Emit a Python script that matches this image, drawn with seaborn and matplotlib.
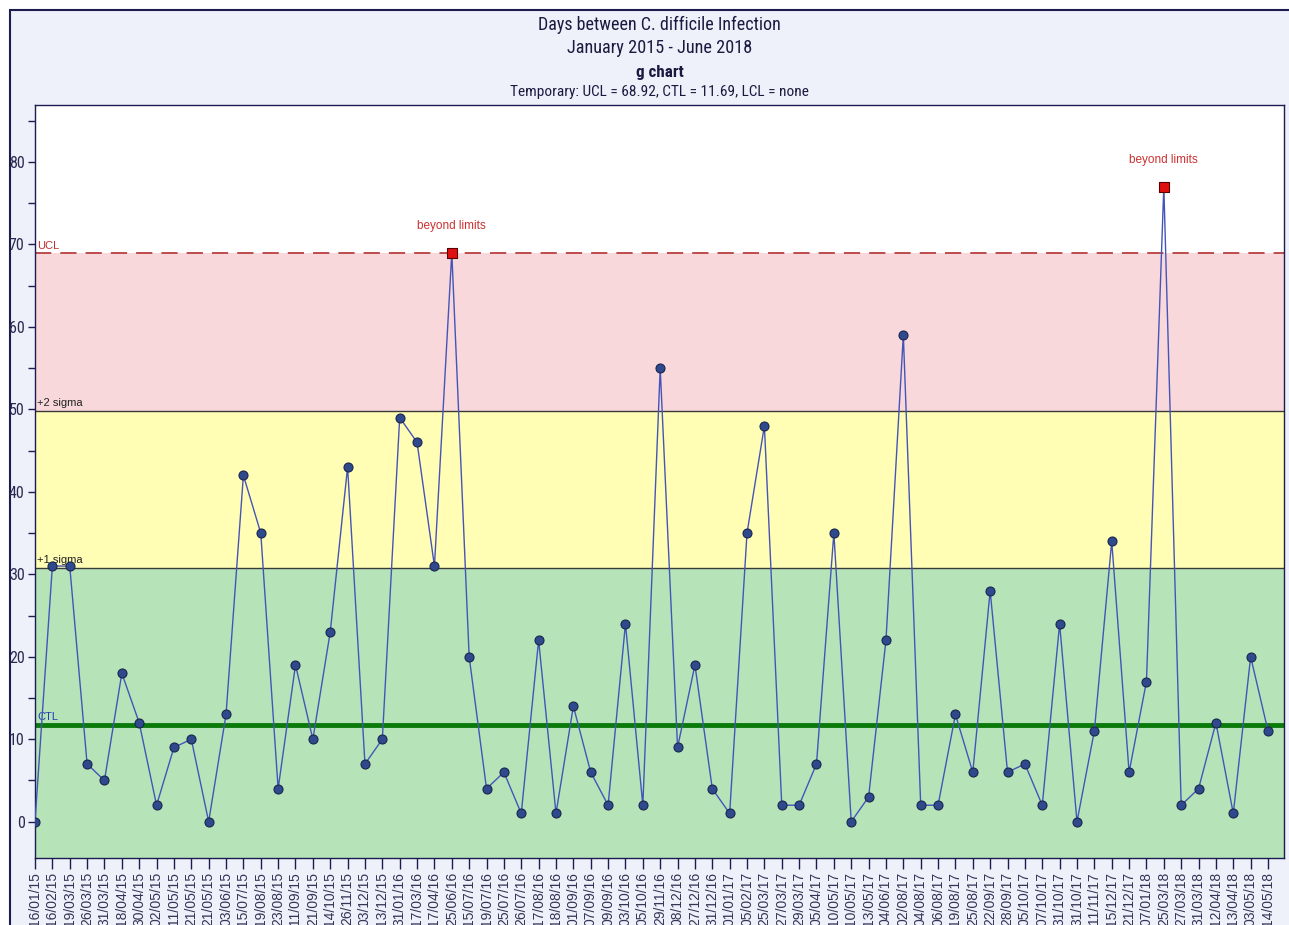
import matplotlib
matplotlib.use("Agg")
import matplotlib.pyplot as plt
from matplotlib.patches import Rectangle
from matplotlib.ticker import MultipleLocator
from matplotlib import font_manager
from matplotlib.font_manager import FontProperties
import seaborn as sns
import pandas as pd
import numpy as np

# ---- data ----
dates = ["16/01/15", "16/02/15", "19/03/15", "26/03/15", "31/03/15", "18/04/15", "30/04/15",
         "02/05/15", "11/05/15", "21/05/15", "21/05/15", "03/06/15", "15/07/15", "19/08/15",
         "23/08/15", "11/09/15", "21/09/15", "14/10/15", "26/11/15", "03/12/15", "13/12/15",
         "31/01/16", "17/03/16", "17/04/16", "25/06/16", "15/07/16", "19/07/16", "25/07/16",
         "26/07/16", "17/08/16", "18/08/16", "01/09/16", "07/09/16", "09/09/16", "03/10/16",
         "05/10/16", "29/11/16", "08/12/16", "27/12/16", "31/12/16", "01/01/17", "05/02/17",
         "25/03/17", "27/03/17", "29/03/17", "05/04/17", "10/05/17", "10/05/17", "13/05/17",
         "04/06/17", "02/08/17", "04/08/17", "06/08/17", "19/08/17", "25/08/17", "22/09/17",
         "28/09/17", "05/10/17", "07/10/17", "31/10/17", "31/10/17", "11/11/17", "15/12/17",
         "21/12/17", "07/01/18", "25/03/18", "27/03/18", "31/03/18", "12/04/18", "13/04/18",
         "03/05/18", "14/05/18"]
days = [0, 31, 31, 7, 5, 18, 12, 2, 9, 10, 0, 13, 42, 35, 4, 19, 10, 23, 43, 7, 10,
        49, 46, 31, 69, 20, 4, 6, 1, 22, 1, 14, 6, 2, 24, 2, 55, 9, 19, 4, 1, 35,
        48, 2, 2, 7, 35, 0, 3, 22, 59, 2, 2, 13, 6, 28, 6, 7, 2, 24, 0, 11, 34,
        6, 17, 77, 2, 4, 12, 1, 20, 11]
UCL = 68.92
CTL = 11.69
title_lines = ["Days between C. difficile Infection", "January 2015 - June 2018"]
subtitle = "g chart"
limits_text = "Temporary: UCL = 68.92, CTL = 11.69, LCL = none"

sigma = (UCL - CTL) / 3.0
s1 = CTL + sigma
s2 = CTL + 2 * sigma

df = pd.DataFrame({"idx": np.arange(len(days)), "days": days, "date": dates})
df["beyond"] = df["days"] > UCL

# ---- fonts: look for a condensed sans ----
entries = font_manager.fontManager.ttflist


def pick_condensed(bold=False):
    want_w = 700 if bold else 400
    best = None
    best_score = 1e9
    for f in entries:
        nm = f.name
        st = str(f.stretch)
        is_cond = ("Narrow" in nm or "Condensed" in nm or st in ("condensed", "semi-condensed"))
        if not is_cond:
            continue
        if str(f.style) != "normal":
            continue
        try:
            w = int(f.weight)
        except Exception:
            w = 700 if "bold" in str(f.weight) else 400
        score = abs(w - want_w)
        if "Liberation" in nm:
            score -= 1000
        elif "Roboto" in nm:
            score -= 500
        elif "Open Sans" in nm:
            score -= 300
        if score < best_score:
            best_score = score
            best = f
    if best is None:
        return FontProperties(family="Liberation Sans", weight="bold" if bold else "normal")
    return FontProperties(fname=best.fname)


fp_cond = pick_condensed(False)
fp_cond_b = pick_condensed(True)

sns.set_style("white")
plt.rcParams["font.family"] = ["Liberation Sans", "DejaVu Sans"]

W, H = 1289, 925
fig = plt.figure(figsize=(W / 100, H / 100), dpi=100, facecolor="white")
renderer = fig.canvas.get_renderer()


def fit(txt, target_px, base=12.0):
    txt.set_fontsize(base)
    w = txt.get_window_extent(renderer=renderer).width
    if w > 0:
        txt.set_fontsize(base * target_px / w)


# outer panel
fig.patches.append(Rectangle((10 / W, -0.1), 1.2, 1.1 - 10 / H, transform=fig.transFigure,
                             facecolor="#eef1fa", edgecolor="#1c1c50", lw=1.5, zorder=-10))

ax = fig.add_axes([35 / W, 1 - 858 / H, 1249 / W, 753 / H])
ax.set_facecolor("white")
ymin, ymax = -4.4, 86.9
ax.set_ylim(ymin, ymax)
ax.set_xlim(0, len(days) - 1 + 0.92)

# zones
ax.axhspan(ymin, s1, color="#b6e4b8", zorder=0, lw=0)
ax.axhspan(s1, s2, color="#fffeb4", zorder=0, lw=0)
ax.axhspan(s2, UCL, color="#f8d8db", zorder=0, lw=0)

ax.axhline(s1, color="#3a3a3a", lw=1.0, zorder=1)
ax.axhline(s2, color="#3a3a3a", lw=1.0, zorder=1)
ax.axhline(UCL, color="#b84040", lw=1.3, ls=(0, (9, 5)), zorder=1)
ax.axhline(CTL, color="#0a7a0a", lw=3.5, zorder=1)

lab_kw = dict(transform=ax.get_yaxis_transform(), fontsize=8, ha="left", va="bottom")
ax.text(0.002, UCL + 0.3, "UCL", color="#c03030", **lab_kw)
ax.text(0.002, s2 + 0.3, "+2 sigma", color="#222222", **lab_kw)
ax.text(0.002, s1 + 0.3, "+1 sigma", color="#222222", **lab_kw)
ax.text(0.002, CTL + 0.4, "CTL", color="#2040b0", **lab_kw)

# series
sns.lineplot(data=df, x="idx", y="days", ax=ax, color="#4455b8", lw=1.0, zorder=3)
norm = df[~df["beyond"]]
out = df[df["beyond"]]
sns.scatterplot(data=norm, x="idx", y="days", ax=ax, marker="o", s=42, color="#2f4a8c",
                edgecolor="#1a2550", linewidth=0.8, zorder=4)
sns.scatterplot(data=out, x="idx", y="days", ax=ax, marker="s", s=45, color="#e01010",
                edgecolor="#5a0000", linewidth=0.8, zorder=4)
for _, r in out.iterrows():
    ax.annotate("beyond limits", (r["idx"], r["days"]), xytext=(0, 19), textcoords="offset points",
                ha="center", va="center", fontsize=8.5, color="#cc3030")

# axes styling
ax.set_xlabel("")
ax.set_ylabel("")
ax.set_xticks(df["idx"])
ax.set_xticklabels(dates, rotation=90, fontsize=10, color="#333355", va="top")
ax.yaxis.set_major_locator(MultipleLocator(10))
ax.yaxis.set_minor_locator(MultipleLocator(5))
ax.set_yticks(range(0, 81, 10))
ax.set_ylim(ymin, ymax)
ax.tick_params(axis="y", which="major", length=5, width=1, color="#1c1c50",
               labelcolor="#2a2a50", left=True, pad=2.5)
ax.tick_params(axis="y", which="minor", length=5, width=1, color="#1c1c50", left=True)
ax.tick_params(axis="x", which="major", length=8, width=1, color="#1c1c50", bottom=True, pad=2)
for lbl in ax.get_yticklabels():
    lbl.set_fontproperties(fp_cond)
    lbl.set_fontsize(11.5)
for sp in ax.spines.values():
    sp.set_visible(True)
    sp.set_color("#1c1c50")
    sp.set_linewidth(1.0)

# titles
cx = (35 + 1284) / 2 / W
t1 = fig.text(cx, 1 - 25 / H, title_lines[0], ha="center", va="center", color="#1a1a40",
              fontproperties=fp_cond)
t2 = fig.text(cx, 1 - 48 / H, title_lines[1], ha="center", va="center", color="#1a1a40",
              fontproperties=fp_cond)
t3 = fig.text(cx, 1 - 72 / H, subtitle, ha="center", va="center", color="#1a1a40",
              fontproperties=fp_cond_b)
t4 = fig.text(cx, 1 - 92 / H, limits_text, ha="center", va="center", color="#1a1a40",
              fontproperties=fp_cond)
fit(t1, 242)
fit(t2, 185)
fit(t3, 48)
fit(t4, 300)

fig.savefig("out.png", dpi=100)
